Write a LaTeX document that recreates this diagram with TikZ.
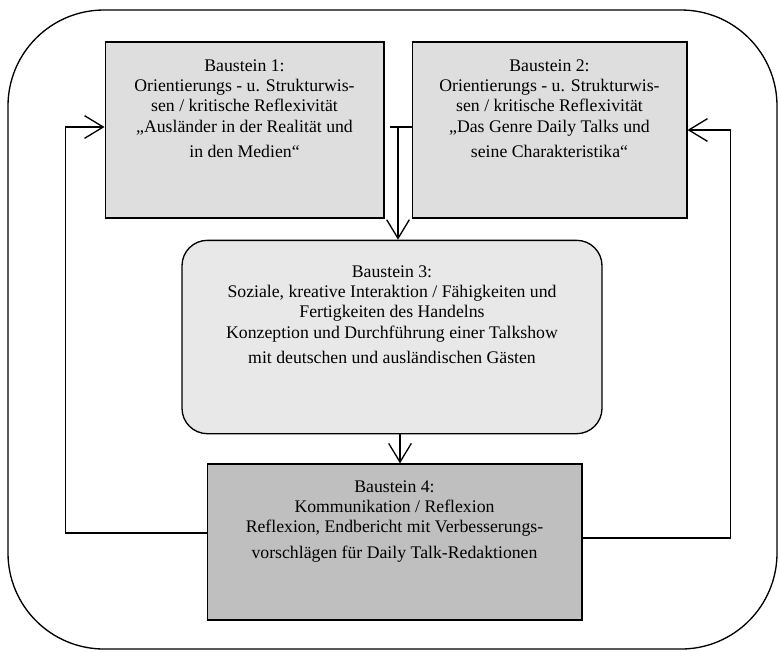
\documentclass[tikz,border=0pt]{standalone}
\usepackage{fontspec}
\setmainfont{Liberation Serif}
\usepackage{xcolor}
\usepackage{tikz}
\usetikzlibrary{arrows.meta,positioning,calc}

\begin{document}
\begin{tikzpicture}[
    >={Straight Barb[length=14pt,width=17pt]},
    x=0.75pt, y=-0.75pt,
    box/.style={draw,line width=1pt,inner sep=0pt},
    wissen/.style={box,fill=black!13,minimum width=209pt,minimum height=132pt},
    handeln/.style={box,fill=black!9,rounded corners=19pt,minimum width=315pt,minimum height=145pt},
    reflex/.style={box,fill=black!25,minimum width=281pt,minimum height=117pt},
    txt/.style={anchor=north,inner sep=0pt,align=center,
                font=\fontsize{13.3}{15.3}\selectfont},
    flow/.style={->,line width=1pt},
  ]
  \useasboundingbox (0,0) rectangle (780,651);

  % --- outer frame ---
  \draw[line width=1pt,rounded corners=72pt] (8,10) rectangle (777,649);

  % --- Baustein 1 and 2 ---
  \node[wissen] (b1) at (244.5,130) {};
  \node[wissen,minimum width=206pt] (b2) at (549.5,130) {};
  \node[txt] (t1) at (244.5,59) {Baustein 1:\\ Orientierungs - u. Strukturwis-\\
    sen / kritische Reflexivität\\ „Ausländer in der Realität und\\[4pt] in den Medien“};
  \node[txt] (t2) at (549.5,59) {Baustein 2:\\ Orientierungs - u. Strukturwis-\\
    sen / kritische Reflexivität\\ „Das Genre Daily Talks und\\[4pt] seine Charakteristika“};

  % --- Baustein 3 ---
  \node[handeln] (b3) at (392,337) {};
  \node[txt] (t3) at (392,265) {Baustein 3:\\ Soziale, kreative Interaktion / Fähigkeiten und\\
    Fertigkeiten des Handelns\\ Konzeption und Durchführung einer Talkshow\\[4pt]
    mit deutschen und ausländischen Gästen};

  % --- Baustein 4 ---
  \node[reflex] (b4) at (394.5,542) {};
  \node[txt] (t4) at (394.5,480) {Baustein 4:\\ Kommunikation / Reflexion\\
    Reflexion, Endbericht mit Verbesserungs-\\[4pt] vorschlägen für Daily Talk-Redaktionen};

  % --- connectors ---
  \coordinate (j) at (398,127);
  \draw[line width=1pt] ([yshift=2.25pt,xshift=3.75pt]b1.east) -- ([yshift=2.25pt]b2.west);
  \draw[flow] (j) -- (j |- b3.north);
  \draw[flow] ([xshift=6pt]b3.south) -- ([xshift=6pt]b3.south |- b4.north);

  % --- feedback loops ---
  \draw[flow] ([yshift=6.75pt]b4.west) -- ++(-141,0) |- ([yshift=2.25pt]b1.west);
  \draw[flow] ([yshift=3pt]b4.east) -- ++(148,0) |- (b2.east);

\end{tikzpicture}
\end{document}
